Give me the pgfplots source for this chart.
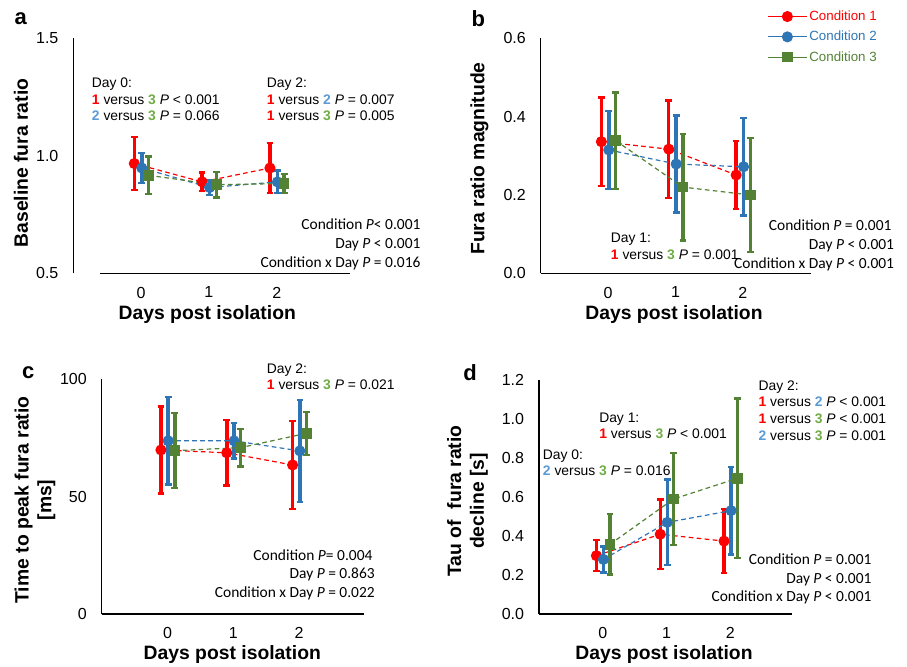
\documentclass[border=0pt]{standalone}
\usepackage{fontspec}
\setmainfont{Liberation Sans}
\newfontfamily\calfont{Carlito}
\usepackage{xcolor}
\usepackage{pgfplots}
\pgfplotsset{compat=1.18}

\definecolor{cred}{HTML}{FF0000}
\definecolor{cblue}{HTML}{2E75B6}
\definecolor{cgreen}{HTML}{548235}
\definecolor{lblue}{HTML}{5B9BD5}
\definecolor{lgreen}{HTML}{70AD47}

\newcommand{\ticfont}{\fontsize{12}{14}\selectfont}
\newcommand{\annfont}{\fontsize{10.4}{12}\selectfont}
\newcommand{\anofont}{\calfont\fontsize{11.6}{13}\selectfont}
\newcommand{\labfont}{\bfseries\fontsize{14.5}{17}\selectfont}
\newcommand{\letfont}{\bfseries\fontsize{16.5}{18}\selectfont}
\newcommand{\one}{\textbf{\textcolor{cred}{1}}}
\newcommand{\two}{\textbf{\textcolor{lblue}{2}}}
\newcommand{\thr}{\textbf{\textcolor{lgreen}{3}}}
\newcommand{\pP}{\textit{P}}
% annotation helpers, coordinates in px (y down)
\newcommand{\al}[3]{\node[anchor=base west,inner sep=0pt,font=\annfont] at (#1,#2) {#3};}
\newcommand{\ar}[3]{\node[anchor=base east,inner sep=0pt,font=\anofont] at (#1,#2) {#3};}

\pgfplotsset{
  panel/.style={scale only axis, clip=false, anchor=south west, xmin=-1,
    axis line style={draw=none}, tick style={draw=none},
    xtick={0,1,2}, xticklabels={0,1,2},
    tick label style={font=\ticfont},
    yticklabel style={inner sep=0pt, xshift=-11pt},
    xticklabel style={inner sep=0pt, yshift=-10pt}},
  ser/.style={color=#1, dash pattern=on 3.5pt off 2.5pt, line width=0.9pt,
    mark size=3.7pt, mark options={solid, fill=#1},
    error bars/y dir=both, error bars/y explicit,
    error bars/error bar style={solid, line width=2.6pt},
    error bars/error mark options={rotate=90, solid, line width=1.8pt, mark size=2.5pt}},
  s1/.style={ser=cred, mark=*},
  s2/.style={ser=cblue, mark=*},
  s3/.style={ser=cgreen, mark=square*, mark size=3.5pt},
}

\begin{document}
\begin{tikzpicture}[x=0.75pt,y=-0.75pt]
\path[use as bounding box] (0,0) rectangle (907,667);
\coordinate (A) at (73.3,273.3);
\coordinate (B) at (540.7,273.3);
\coordinate (C) at (101.7,614);
\coordinate (D) at (539,614);

% ---------- a
\begin{axis}[panel, at={(A)}, width=207.5pt, height=176.25pt,
  xmax=3.08, ymin=0.5, ymax=1.5, ytick={0.5,1,1.5}, yticklabels={0.5,1.0,1.5}]
  \addplot[s1] coordinates {(-0.1,0.967) +- (0,0.112) (0.9,0.889) +- (0,0.040) (1.9,0.948) +- (0,0.107)};
  \addplot[s2] coordinates {(0.01,0.948) +- (0,0.063) (1.01,0.865) +- (0,0.032) (2.01,0.889) +- (0,0.048)};
  \addplot[s3] coordinates {(0.11,0.917) +- (0,0.080) (1.11,0.877) +- (0,0.055) (2.11,0.882) +- (0,0.041)};
  \draw[line width=0.8pt] (axis cs:-1,0.5) -- (axis cs:-1,1.5);
  \draw[line width=0.8pt] (axis cs:-0.6,0.5) -- (axis cs:3.08,0.5);
\end{axis}

% ---------- b
\begin{axis}[panel, at={(B)}, width=202.7pt, height=176.25pt,
  xmax=3.01, ymin=0, ymax=0.6, ytick={0,0.2,0.4,0.6}, yticklabels={0.0,0.2,0.4,0.6},
  legend style={at={(axis description cs:0.838,1.127)}, anchor=north west, draw=none, fill=none,
    inner sep=0pt, font=\fontsize{10}{12}\selectfont, row sep=3.5pt, nodes={inner sep=1.5pt}},
  legend cell align=left,
  legend image code/.code={\draw[mark repeat=2,mark phase=2,#1,solid] plot coordinates {(0pt,0pt)(14.5pt,0pt)(29pt,0pt)};}]
  \addplot[s1] coordinates {(-0.1,0.336) +- (0,0.113) (0.9,0.317) +- (0,0.124) (1.9,0.251) +- (0,0.087)};
  \addlegendentry{\textcolor{cred}{Condition 1}}
  \addplot[s2] coordinates {(0.01,0.315) +- (0,0.100) (1.01,0.279) +- (0,0.124) (2.01,0.272) +- (0,0.124)};
  \addlegendentry{\textcolor{cblue}{Condition 2}}
  \addplot[s3] coordinates {(0.11,0.339) +- (0,0.123) (1.11,0.220) +- (0,0.136) (2.11,0.200) +- (0,0.145)};
  \addlegendentry{\textcolor{cgreen}{Condition 3}}
  \draw[line width=0.8pt] (axis cs:-1,0) -- (axis cs:-1,0.6);
  \draw[line width=0.8pt] (axis cs:-1,0) -- (axis cs:3.01,0);
\end{axis}

% ---------- c
\begin{axis}[panel, at={(C)}, width=197pt, height=176pt,
  xmax=2.99, ymin=0, ymax=100, ytick={0,50,100}, yticklabels={0,50,100}]
  \addplot[s1] coordinates {(-0.1,69.9) +- (0,18.6) (0.9,68.7) +- (0,14.0) (1.9,63.5) +- (0,18.7)};
  \addplot[s2] coordinates {(0.01,73.8) +- (0,18.6) (1.01,73.8) +- (0,7.6) (2.01,69.5) +- (0,21.8)};
  \addplot[s3] coordinates {(0.11,69.6) +- (0,16.0) (1.11,70.9) +- (0,8.0) (2.11,77.0) +- (0,9.2)};
  \draw[line width=0.8pt] (axis cs:-1,0) -- (axis cs:-1,100);
  \draw[line width=0.8pt] (axis cs:-1,0) -- (axis cs:2.99,0);
\end{axis}

% ---------- d
\begin{axis}[panel, at={(D)}, width=190pt, height=175.5pt,
  xmax=2.97, ymin=0, ymax=1.2, ytick={0,0.2,0.4,0.6,0.8,1,1.2},
  yticklabels={0.0,0.2,0.4,0.6,0.8,1.0,1.2}]
  \addplot[s1] coordinates {(-0.1,0.299) +- (0,0.080) (0.9,0.409) +- (0,0.178) (1.9,0.374) +- (0,0.163)};
  \addplot[s2] coordinates {(0.01,0.280) +- (0,0.067) (1.01,0.470) +- (0,0.220) (2.01,0.530) +- (0,0.224)};
  \addplot[s3] coordinates {(0.11,0.357) +- (0,0.155) (1.11,0.590) +- (0,0.236) (2.11,0.696) +- (0,0.410)};
  \draw[line width=0.8pt] (axis cs:-1,0) -- (axis cs:-1,1.2);
  \draw[line width=0.8pt] (axis cs:-1,0) -- (axis cs:2.97,0);
\end{axis}

% panel letters and axis titles
\node[font=\letfont] at (20.7,19) {a};
\node[font=\letfont] at (478.3,19) {b};
\node[font=\letfont] at (28.3,372.5) {c};
\node[font=\letfont] at (470,372.5) {d};
\node[font=\labfont, rotate=90] at (21,163) {Baseline fura ratio};
\node[font=\labfont, rotate=90] at (479.3,158.5) {Fura ratio magnitude};
\node[font=\labfont, rotate=90, align=center] at (35,500) {Time to peak fura ratio\\{}[ms]};
\node[font=\labfont, rotate=90, align=center] at (467.5,501) {Tau of\ \ fura ratio\\decline [s]};
\node[font=\labfont] at (207.3,314) {Days post isolation};
\node[font=\labfont] at (674,314) {Days post isolation};
\node[font=\labfont] at (232.3,654) {Days post isolation};
\node[font=\labfont] at (664,654) {Days post isolation};

% annotations a
\al{91.7}{87.3}{Day 0:}
\al{91.7}{104.3}{\one{} versus \thr{} \pP{} < 0.001}
\al{91.7}{120.3}{\two{} versus \thr{} \pP{} = 0.066}
\al{266.7}{87.3}{Day 2:}
\al{266.7}{104.3}{\one{} versus \two{} \pP{} = 0.007}
\al{266.7}{120.3}{\one{} versus \thr{} \pP{} = 0.005}
\ar{420.7}{229}{Condition \pP{}< 0.001}
\ar{420.7}{248.3}{Day \pP{} < 0.001}
\ar{420.7}{267.3}{Condition x Day \pP{} = 0.016}
% annotations b
\al{610.7}{242.3}{Day 1:}
\al{610.7}{259.3}{\one{} versus \thr{} \pP{} = 0.001}
\ar{891.7}{230}{Condition \pP{} = 0.001}
\ar{894.3}{249.3}{Day \pP{} < 0.001}
\ar{894.3}{268.3}{Condition x Day \pP{} < 0.001}
% annotations c
\al{266.7}{373.3}{Day 2:}
\al{266.7}{389}{\one{} versus \thr{} \pP{} = 0.021}
\ar{372.7}{560.7}{Condition \pP{}= 0.004}
\ar{375}{578.3}{Day \pP{} = 0.863}
\ar{375}{597.3}{Condition x Day \pP{} = 0.022}
% annotations d
\al{758.3}{390}{Day 2:}
\al{758.3}{406}{\one{} versus \two{} \pP{} < 0.001}
\al{758.3}{423.3}{\one{} versus \thr{} \pP{} < 0.001}
\al{758.3}{440.3}{\two{} versus \thr{} \pP{} = 0.001}
\al{599}{422.3}{Day 1:}
\al{599}{438.3}{\one{} versus \thr{} \pP{} < 0.001}
\al{542.7}{459.3}{Day 0:}
\al{542.7}{475}{\two{} versus \thr{} \pP{} = 0.016}
\ar{871.7}{564.3}{Condition \pP{} = 0.001}
\ar{871.7}{583.3}{Day \pP{} < 0.001}
\ar{871.7}{601.7}{Condition x Day \pP{} < 0.001}
\end{tikzpicture}
\end{document}
